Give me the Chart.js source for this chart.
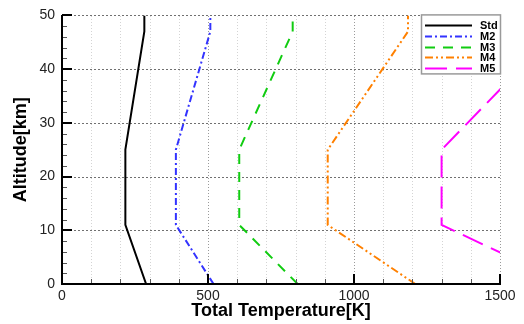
<!DOCTYPE html>
<html>
<head>
<meta charset="utf-8">
<script src="https://cdn.jsdelivr.net/npm/chart.js@4"></script>
<style>
  html, body { margin: 0; padding: 0; background: #fff; }
  #wrap { width: 524px; height: 324px; position: relative; }
</style>
</head>
<body>
<div id="wrap"><canvas id="c" width="524" height="324"></canvas></div>
<script>
// ---- data ----
const altitudes = [0, 11, 25, 47, 50];            // km
const seriesNames = ['Std', 'M2', 'M3', 'M4', 'M5'];
const tempStd = [288, 217, 217, 282, 282];        // K
const tempM2  = [519, 390, 390, 508, 508];
const tempM3  = [807, 607, 607, 790, 790];
const tempM4  = [1210, 910, 910, 1185, 1185];
const tempM5  = [1729, 1300, 1300, 1693, 1693];
const xTickValues = [0, 500, 1000, 1500];
const yTickValues = [0, 10, 20, 30, 40, 50];

const FONT = '"Liberation Sans", Arial, sans-serif';

function toPoints(temps) {
  return temps.map((t, i) => ({ x: t, y: altitudes[i] }));
}

const styles = [
  { color: '#000000', dash: [] },
  { color: '#3333ff', dash: [7, 3, 2, 3] },
  { color: '#11cc11', dash: [10, 8] },
  { color: '#ff8000', dash: [8, 3, 2, 3, 2, 3] },
  { color: '#ff00ff', dash: [22, 9] }
];
const allTemps = [tempStd, tempM2, tempM3, tempM4, tempM5];

const datasets = allTemps.map((temps, i) => ({
  label: seriesNames[i],
  data: toPoints(temps),
  showLine: true,
  borderColor: styles[i].color,
  backgroundColor: styles[i].color,
  borderDash: styles[i].dash,
  borderWidth: 2,
  pointRadius: 0,
  tension: 0,
  fill: false
}));

// grid behind data, ticks/axes/legend over data
const gridPlugin = {
  id: 'tecGrid',
  beforeDatasetsDraw(chart) {
    const { ctx, chartArea: a, scales: { x, y } } = chart;
    ctx.save();
    ctx.lineWidth = 1;
    for (let v = 100; v <= 1500; v += 100) {
      const px = Math.round(x.getPixelForValue(v)) + 0.5;
      const major = v % 500 === 0;
      ctx.strokeStyle = major ? '#9a9a9a' : '#d4d4d4';
      ctx.setLineDash([1, 2]);
      ctx.beginPath(); ctx.moveTo(px, a.bottom); ctx.lineTo(px, a.top); ctx.stroke();
    }
    for (let v = 10; v <= 50; v += 10) {
      const py = Math.round(y.getPixelForValue(v)) + 0.5;
      ctx.strokeStyle = '#707070';
      ctx.setLineDash([2, 2]);
      ctx.beginPath(); ctx.moveTo(a.left, py); ctx.lineTo(a.right, py); ctx.stroke();
    }
    ctx.restore();
  },
  afterDatasetsDraw(chart) {
    const { ctx, chartArea: a, scales: { x, y } } = chart;
    ctx.save();
    ctx.setLineDash([]);
    ctx.lineWidth = 1;
    ctx.strokeStyle = '#555';
    for (let v = 100; v <= 1500; v += 100) {
      if (v % 500 === 0) continue;
      const px = Math.round(x.getPixelForValue(v)) + 0.5;
      ctx.beginPath(); ctx.moveTo(px, a.bottom); ctx.lineTo(px, a.bottom - 5); ctx.stroke();
    }
    for (let v = 2; v <= 50; v += 2) {
      if (v % 10 === 0) continue;
      const py = Math.round(y.getPixelForValue(v)) + 0.5;
      ctx.beginPath(); ctx.moveTo(a.left, py); ctx.lineTo(a.left + 5, py); ctx.stroke();
    }
    ctx.lineWidth = 2;
    ctx.strokeStyle = '#000';
    xTickValues.forEach(v => {
      if (v === 0) return;
      const px = Math.round(x.getPixelForValue(v));
      ctx.beginPath(); ctx.moveTo(px, a.bottom); ctx.lineTo(px, a.bottom - 10); ctx.stroke();
    });
    yTickValues.forEach(v => {
      if (v === 0) return;
      const py = Math.round(y.getPixelForValue(v));
      ctx.beginPath(); ctx.moveTo(a.left, py); ctx.lineTo(a.left + 10, py); ctx.stroke();
    });
    const x0 = Math.round(x.getPixelForValue(0));
    const y0 = Math.round(y.getPixelForValue(0));
    ctx.beginPath();
    ctx.moveTo(x0, Math.round(y.getPixelForValue(50)));
    ctx.lineTo(x0, y0);
    ctx.lineTo(Math.round(x.getPixelForValue(1500)) + 1, y0);
    ctx.stroke();
    ctx.restore();
  },
  afterDraw(chart) {
    const { ctx, chartArea: a } = chart;
    ctx.save();
    const right = a.right + 1, top = a.top - 1;
    const w = 80, h = 60;
    const left = right - w;
    ctx.fillStyle = '#fff';
    ctx.fillRect(left, top, w, h);
    ctx.strokeStyle = '#9a9a9a';
    ctx.lineWidth = 1.5;
    ctx.setLineDash([]);
    ctx.strokeRect(left + 0.5, top + 0.5, w - 1, h - 1);
    ctx.font = 'bold 11px ' + FONT;
    ctx.textBaseline = 'middle';
    ctx.textAlign = 'left';
    chart.data.datasets.forEach((ds, i) => {
      const cy = Math.round(top + 11 + i * 10.6) + 0.5;
      ctx.strokeStyle = ds.borderColor;
      ctx.lineWidth = 2;
      ctx.setLineDash(ds.borderDash);
      ctx.beginPath(); ctx.moveTo(left + 4, cy); ctx.lineTo(left + 51, cy); ctx.stroke();
      ctx.fillStyle = '#000';
      ctx.fillText(ds.label, left + 59, cy);
    });
    ctx.restore();
  }
};

new Chart(document.getElementById('c'), {
  type: 'scatter',
  data: { datasets },
  options: {
    responsive: false,
    animation: false,
    devicePixelRatio: 1,
    layout: { padding: { left: 0, right: 24, top: 15, bottom: 0 } },
    plugins: { legend: { display: false }, tooltip: { enabled: false } },
    scales: {
      x: {
        type: 'linear', min: 0, max: 1500,
        grid: { display: false, drawTicks: false },
        border: { display: false },
        afterBuildTicks(scale) { scale.ticks = xTickValues.map(v => ({ value: v })); },
        afterFit(scale) { scale.height = 40; },
        ticks: { color: '#222', font: { family: FONT, size: 14 }, padding: 4, maxRotation: 0,
                 callback: v => String(v) },
        title: { display: true, text: 'Total Temperature[K]', color: '#000',
                 font: { family: FONT, size: 18, weight: 'bold' }, padding: { top: 0, bottom: 2 } }
      },
      y: {
        type: 'linear', min: 0, max: 50,
        grid: { display: false, drawTicks: false },
        border: { display: false },
        afterBuildTicks(scale) { scale.ticks = yTickValues.map(v => ({ value: v })); },
        afterFit(scale) { scale.width = 62; },
        ticks: { color: '#222', font: { family: FONT, size: 14 }, padding: 7,
                 callback: v => String(v) },
        title: { display: true, text: 'Altitude[km]', color: '#000',
                 font: { family: FONT, size: 18, weight: 'bold' }, padding: { top: 10, bottom: 0 } }
      }
    }
  },
  plugins: [gridPlugin]
});
</script>
</body>
</html>
